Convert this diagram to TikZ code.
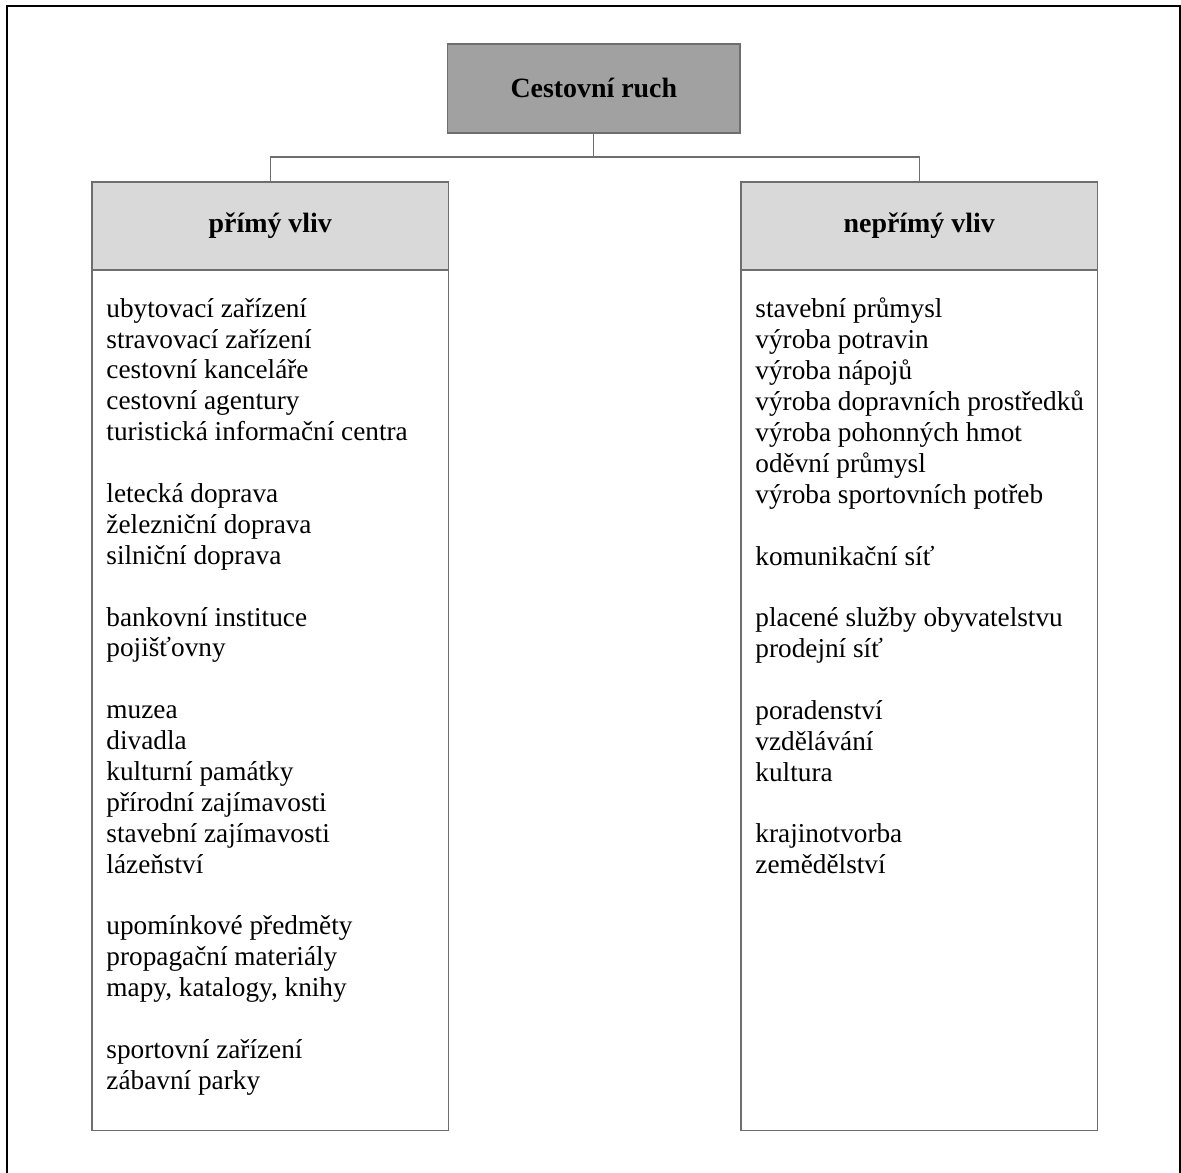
\documentclass[tikz,border=0pt]{standalone}
\usepackage{fontspec}
\setmainfont{Liberation Serif}
\usetikzlibrary{positioning}

\begin{document}
\begin{tikzpicture}[font=\fontsize{12.8}{14.5}\selectfont]

    % --- styles ---
    \tikzset{
        boxline/.style={draw=black!57, line width=0.6pt, outer sep=0pt},
        topbox/.style={boxline, fill=black!37, minimum width=4.82cm, minimum height=1.47cm, font=\fontsize{13.1}{14.5}\selectfont\bfseries},
        headbox/.style={boxline, fill=black!15, minimum width=5.88cm, minimum height=1.45cm, font=\fontsize{13.1}{14.5}\selectfont\bfseries},
        listbox/.style={boxline, minimum width=5.88cm, minimum height=14.2cm},
        listtext/.style={anchor=north west, align=left, inner sep=0pt},
        link/.style={draw=black!57, line width=0.6pt}
    }
    \newcommand{\gap}{\\[14.5pt]}

    \useasboundingbox (0,0) rectangle (19.49,-19.35);

    % --- outer frame (open at the bottom) ---
    \draw[line width=1pt] (0.12,-19.35) -- (0.12,-0.10) -- (19.47,-0.10) -- (19.47,-19.35);

    % --- top box ---
    \node[topbox] (ruch) at (9.80,-1.46) {Cestovní ruch};

    % --- two branches ---
    \node[headbox] (primy) at (4.46,-3.73) {přímý vliv};
    \node[headbox] (neprimy) at (15.17,-3.73) {nepřímý vliv};

    \node[listbox, below=0pt of primy] (primylist) {};
    \node[listbox, below=0pt of neprimy] (neprimylist) {};
    \draw[boxline, line width=1pt] (primy.south west) -- (primy.south east);
    \draw[boxline, line width=1pt] (neprimy.south west) -- (neprimy.south east);

    % --- connectors ---
    \coordinate (split) at (9.80,-2.59);
    \draw[link] (ruch.south) -- (split);
    \draw[link] (split) -| (primy.north);
    \draw[link] (split) -| (neprimy.north);

    % --- lists ---
    \node[listtext] (primyitems) at ([xshift=0.23cm, yshift=-0.46cm]primylist.north west) {%
        ubytovací zařízení\\
        stravovací zařízení\\
        cestovní kanceláře\\
        cestovní agentury\\
        turistická informační centra\gap
        letecká doprava\\
        železniční doprava\\
        silniční doprava\gap
        bankovní instituce\\
        pojišťovny\gap
        muzea\\
        divadla\\
        kulturní památky\\
        přírodní zajímavosti\\
        stavební zajímavosti\\
        lázeňství\gap
        upomínkové předměty\\
        propagační materiály\\
        mapy, katalogy, knihy\gap
        sportovní zařízení\\
        zábavní parky};

    \node[listtext] (neprimyitems) at ([xshift=0.23cm, yshift=-0.46cm]neprimylist.north west) {%
        stavební průmysl\\
        výroba potravin\\
        výroba nápojů\\
        výroba dopravních prostředků\\
        výroba pohonných hmot\\
        oděvní průmysl\\
        výroba sportovních potřeb\gap
        komunikační síť\gap
        placené služby obyvatelstvu\\
        prodejní síť\gap
        poradenství\\
        vzdělávání\\
        kultura\gap
        krajinotvorba\\
        zemědělství};

\end{tikzpicture}
\end{document}
